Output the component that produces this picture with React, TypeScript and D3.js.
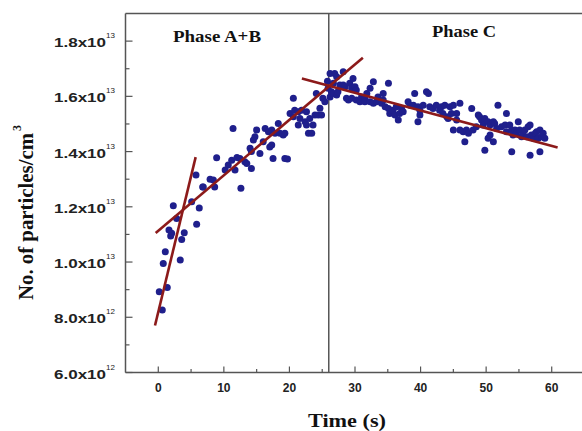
import React from 'react';
import { scaleLinear, line } from 'd3';

const width = 582;
const height = 431;

// Phase A+B readings (time s, particles in 1e12 /cm3)
const phaseABTime = [
	0.15, 0.61, 0.76, 1.07, 1.37, 1.63, 1.89, 2.04, 2.29, 2.8, 3.35, 3.57, 3.96,
	5.09, 5.75, 5.85, 6.25, 6.77, 6.86, 7.9, 8.4, 8.6, 8.9, 10.2, 10.67, 11.2,
	11.4, 11.7, 12.0, 12.45, 12.6, 13.2, 13.5, 14.0, 14.2, 14.2, 14.5, 14.74,
	15.0, 15.5, 16.0, 16.3, 16.8, 17.0, 17.3, 17.3, 17.5, 17.8, 18.3, 18.55,
	19.05, 19.3, 19.3, 19.7, 20.1, 20.6, 20.6, 20.8, 21.35, 21.35, 21.6, 21.86,
	22.4, 22.6, 22.6, 22.9, 23.1, 23.4, 23.6, 23.9, 24.1, 24.4, 24.65, 24.9,
	25.1, 25.4, 25.8, 25.9,
];
const phaseABValue = [
	8.92, 8.26, 9.95, 10.37, 9.08, 11.16, 10.94, 11.04, 12.04, 11.58, 10.07,
	10.82, 11.06, 12.18, 13.15, 11.37, 11.96, 12.72, 12.72, 13.0, 12.97, 12.72,
	13.78, 13.33, 13.51, 13.69, 14.84, 13.33, 13.79, 13.75, 12.67, 13.63, 13.57,
	14.12, 14.0, 13.39, 14.42, 14.54, 14.78, 13.93, 14.36, 14.84, 14.72, 14.17,
	14.24, 14.78, 13.75, 14.66, 15.02, 14.66, 14.6, 14.66, 13.75, 13.73, 15.38,
	15.26, 15.93, 15.5, 15.44, 14.96, 15.2, 15.5, 15.08, 15.44, 14.96, 14.66,
	15.2, 14.66, 14.96, 15.32, 16.1, 15.32, 15.57, 15.32, 15.93, 15.8, 16.55,
	16.29,
];

// Phase C readings
const phaseCTime = [
	26.2, 26.2, 26.4, 26.7, 26.7, 26.9, 27.2, 27.2, 27.4, 27.7, 28.2, 28.2, 28.5,
	28.7, 29.0, 29.2, 29.5, 29.5, 29.7, 30.0, 30.2, 30.2, 30.75, 31.0, 31.5, 31.5,
	31.8, 32.3, 32.3, 32.8, 32.8, 33.3, 33.5, 34.05, 34.3, 34.3, 34.6, 35.1, 35.1,
	35.3, 35.8, 36.1, 36.3, 36.6, 36.8, 37.1, 37.35, 38.1, 38.4, 38.9, 39.1, 39.6,
	39.6, 39.9, 39.9, 40.4, 40.9, 41.2, 41.4, 41.9, 42.4, 42.9, 43.2, 43.4, 43.7,
	44.0, 44.2, 44.5, 44.7, 45.0, 45.0, 45.5, 45.5, 46.0, 46.0, 46.5, 46.75, 47.0,
	47.3, 47.8, 48.0, 48.5, 48.8, 49.0, 49.3, 49.55, 49.8, 49.8, 50.3, 50.3, 50.6,
	50.6, 51.1, 51.1, 51.3, 51.6, 51.8, 52.35, 52.9, 53.1, 53.1, 53.6, 53.9, 53.9,
	54.1, 54.4, 54.6, 54.9, 55.1, 55.4, 55.6, 55.9, 56.2, 56.4, 56.7, 56.7, 56.9,
	57.2, 57.5, 57.7, 57.95, 58.2, 58.2, 58.45, 58.7, 58.95,
];
const phaseCValue = [
	16.83, 15.98, 16.17, 16.47, 16.1, 16.83, 16.71, 16.05, 16.17, 16.41, 16.89,
	16.41, 16.35, 15.93, 15.87, 16.47, 16.29, 15.93, 16.65, 16.35, 16.23, 15.87,
	15.8, 15.98, 15.93, 15.8, 16.1, 16.29, 15.8, 16.53, 15.75, 15.8, 15.98, 15.75,
	16.1, 15.87, 15.62, 16.47, 15.56, 15.38, 15.5, 15.32, 15.62, 15.14, 15.38,
	15.56, 15.44, 15.8, 15.68, 15.68, 16.1, 15.62, 15.08, 15.5, 15.32, 15.68,
	16.17, 16.1, 15.62, 15.56, 15.68, 15.5, 15.62, 15.38, 15.68, 15.26, 15.2,
	15.62, 15.38, 15.68, 14.78, 15.38, 15.14, 15.75, 14.78, 14.72, 14.36, 14.78,
	14.66, 15.56, 14.78, 14.9, 15.32, 15.26, 15.14, 14.96, 15.2, 14.05, 15.08,
	14.48, 14.96, 14.6, 15.08, 14.36, 15.02, 14.84, 15.68, 14.9, 14.96, 15.38,
	14.72, 14.96, 14.78, 13.99, 14.6, 14.78, 14.66, 15.08, 14.78, 14.54, 14.6,
	14.78, 14.54, 14.9, 14.96, 13.87, 14.6, 14.48, 14.66, 14.72, 14.48, 14.78,
	13.99, 14.54, 14.66, 14.48,
];

// fitted lines, end points [time, value]
const fitSteep: [number, number][] = [[-0.5, 7.7], [5.7, 13.8]];
const fitGrowth: [number, number][] = [[-0.4, 11.05], [31.2, 17.4]];
const fitDecay: [number, number][] = [[21.9, 16.65], [60.9, 14.15]];

const phaseBoundary = 26;

const xTicks = [0, 10, 20, 30, 40, 50, 60];
const xMinorTicks = [5, 15, 25, 35, 45, 55];
const yTicks = [6, 8, 10, 12, 14, 16, 18];
const yMinorTicks = [7, 9, 11, 13, 15, 17];
const yTickMantissa = ['6.0x10', '8.0x10', '1.0x10', '1.2x10', '1.4x10', '1.6x10', '1.8x10'];
const yTickExponent = ['12', '12', '13', '13', '13', '13', '13'];

const axisColor = '#555';
const dotColor = '#1f1f8c';
const fitColor = '#8c1a1a';
const sans = 'Arial, "Liberation Sans", sans-serif';
const serif = '"Times New Roman", "Liberation Serif", serif';

export default function App() {
	const x = scaleLinear().domain([-5, 65]).range([125.5, 584.5]);
	const y = scaleLinear().domain([6, 19]).range([372.5, 13.5]);
	const fitLine = line<[number, number]>()
		.x((d) => x(d[0]))
		.y((d) => y(d[1]));

	const dots = [
		...phaseABTime.map((t, i) => [t, phaseABValue[i]]),
		...phaseCTime.map((t, i) => [t, phaseCValue[i]]),
	];

	const left = x(-5);
	const bottom = y(6);
	const top = y(19);

	return (
		<svg
			width={width}
			height={height}
			style={{ position: 'absolute', left: 0, top: 0, background: '#fff' }}
		>
			{/* frame */}
			<line x1={left} x2={width} y1={bottom} y2={bottom} stroke={axisColor} strokeWidth={1.5} />
			<line x1={left} x2={width} y1={top} y2={top} stroke={axisColor} strokeWidth={1.5} />
			<line x1={left} x2={left} y1={top} y2={bottom} stroke={axisColor} strokeWidth={1.5} />
			<line
				x1={x(phaseBoundary)}
				x2={x(phaseBoundary)}
				y1={top}
				y2={bottom}
				stroke={axisColor}
				strokeWidth={1.5}
			/>

			{/* x ticks */}
			{xTicks.map((t) => (
				<g key={'xt' + t}>
					<line x1={x(t)} x2={x(t)} y1={bottom} y2={bottom - 6} stroke={axisColor} strokeWidth={1.2} />
					<text
						x={x(t)}
						y={bottom + 19}
						textAnchor="middle"
						fontFamily={sans}
						fontWeight="bold"
						fontSize={12}
						fill="#222"
					>
						{t}
					</text>
				</g>
			))}
			{xMinorTicks.map((t) => (
				<line key={'xm' + t} x1={x(t)} x2={x(t)} y1={bottom} y2={bottom - 3.5} stroke={axisColor} strokeWidth={1.2} />
			))}

			{/* y ticks */}
			{yTicks.map((v, i) => (
				<g key={'yt' + v}>
					<line x1={left} x2={left + 7} y1={y(v)} y2={y(v)} stroke={axisColor} strokeWidth={1.2} />
					<text
						x={54}
						y={y(v) + 6}
						fontFamily={sans}
						fontWeight="bold"
						fontSize={12.5}
						fill="#222"
						textLength={52}
						lengthAdjust="spacingAndGlyphs"
					>
						{yTickMantissa[i]}
					</text>
					<text x={106} y={y(v) - 3} fontFamily={sans} fontSize={8} fill="#222">
						{yTickExponent[i]}
					</text>
				</g>
			))}
			{yMinorTicks.map((v) => (
				<line key={'ym' + v} x1={left} x2={left + 4} y1={y(v)} y2={y(v)} stroke={axisColor} strokeWidth={1.2} />
			))}

			{/* points */}
			{dots.map((d, i) => (
				<circle key={i} cx={x(d[0])} cy={y(d[1])} r={3.5} fill={dotColor} />
			))}

			{/* fits */}
			{[fitSteep, fitGrowth, fitDecay].map((f, i) => (
				<path key={'f' + i} d={fitLine(f) || ''} stroke={fitColor} strokeWidth={2.6} fill="none" />
			))}

			{/* phase labels */}
			<text
				x={173}
				y={41.5}
				fontFamily={serif}
				fontWeight="bold"
				fontSize={16}
				fill="#111"
				textLength={88}
				lengthAdjust="spacingAndGlyphs"
			>
				Phase A+B
			</text>
			<text
				x={432}
				y={37}
				fontFamily={serif}
				fontWeight="bold"
				fontSize={16}
				fill="#111"
				textLength={64}
				lengthAdjust="spacingAndGlyphs"
			>
				Phase C
			</text>

			{/* axis titles */}
			<text
				x={308}
				y={427}
				fontFamily={serif}
				fontWeight="bold"
				fontSize={19}
				fill="#111"
				textLength={78}
				lengthAdjust="spacingAndGlyphs"
			>
				Time (s)
			</text>
			<text
				transform="translate(33,300) rotate(-90)"
				fontFamily={serif}
				fontWeight="bold"
				fontSize={20}
				fill="#111"
				textLength={167}
				lengthAdjust="spacingAndGlyphs"
			>
				No. of particles/cm
			</text>
			<text
				transform="translate(21,131) rotate(-90)"
				fontFamily={serif}
				fontWeight="bold"
				fontSize={12}
				fill="#111"
			>
				3
			</text>
		</svg>
	);
}
